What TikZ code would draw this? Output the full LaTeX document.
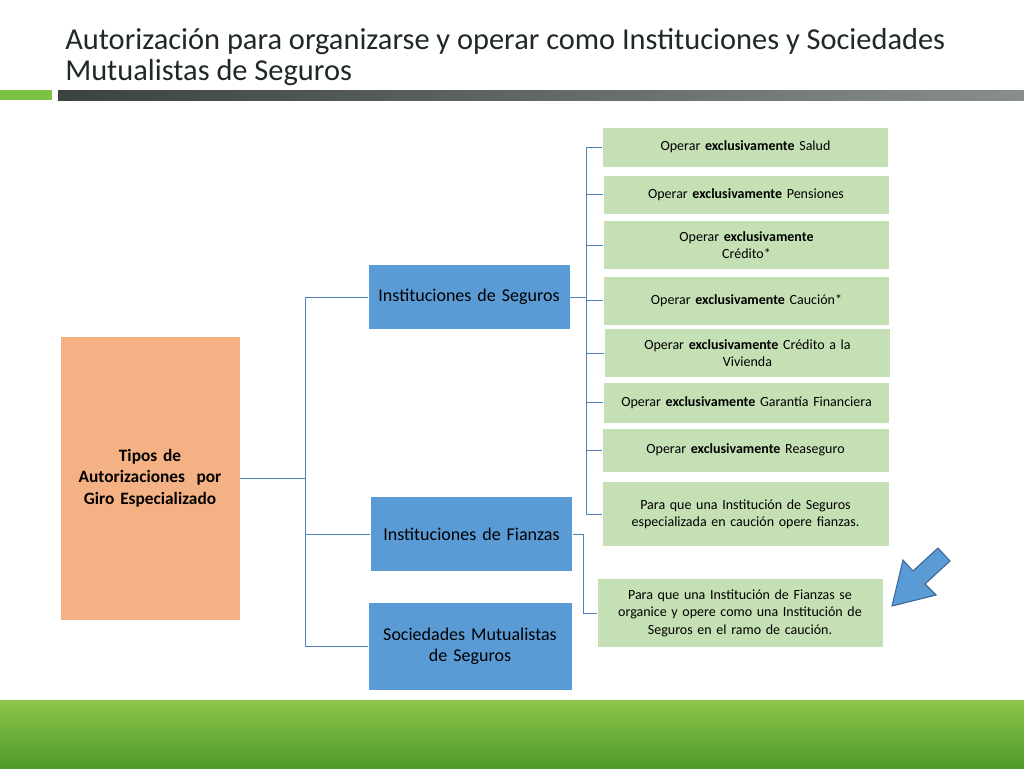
\documentclass[tikz,border=0pt]{standalone}
\usepackage{fontspec}
\setmainfont{Carlito}
\usetikzlibrary{positioning}
\hyphenpenalty=10000
\definecolor{titlegray}{HTML}{1F2A22}
\definecolor{barg}{HTML}{7CC243}
\definecolor{bardark}{HTML}{3A4340}
\definecolor{peach}{HTML}{F4B183}
\definecolor{bluebox}{HTML}{5B9BD5}
\definecolor{greenbox}{HTML}{C5E0B4}
\definecolor{linkblue}{HTML}{4F81BD}
\definecolor{grassA}{HTML}{4E9A2A}
\definecolor{grassB}{HTML}{8CC64A}
\tikzset{
  giro/.style={fill=peach, draw=white, align=center, font=\bfseries\fontsize{13}{16}\selectfont, text width=125pt},
  inst/.style={fill=bluebox, draw=white, align=center, font=\fontsize{13.5}{16}\selectfont, text width=145pt},
  opc/.style={fill=greenbox, draw=white, align=center, font=\fontsize{10.5}{13}\selectfont, text width=208pt},
  link/.style={draw=linkblue, line width=0.6pt}
}
\begin{document}
\begin{tikzpicture}[x=0.75pt,y=-0.75pt]
\useasboundingbox (0,0) rectangle (1024,768);
\fill[white] (0,0) rectangle (1024,768);

% title and bar
\node[anchor=north west, text=titlegray, align=left, inner sep=0pt,
  font=\fontsize{22.8}{23}\selectfont] (titulo) at (65,28)
  {Autorización para organizarse y operar como Instituciones y Sociedades\\Mutualistas de Seguros};
\fill[barg] (0,90) rectangle (52,100);
\shade[left color=bardark, right color=bardark!60] (58,90) rectangle (1024,100);

% grass
\shade[top color=grassB, bottom color=grassA] (0,700) rectangle (1024,768);

% boxes
\node[giro, minimum width=135pt, minimum height=213pt] (tipos) at (150,478)
  {Tipos de\\Autorizaciones~ por\\Giro Especializado};
\node[inst, minimum width=151pt, minimum height=49pt] (seguros) at (469,297) {Instituciones de Seguros};
\node[inst, minimum width=148pt, minimum height=56pt] (fianzas) at (471.5,534) {Instituciones de Fianzas};
\node[inst, minimum width=153pt, minimum height=66pt] (mutual) at (470,646) {Sociedades Mutualistas\\de Seguros};

\node[opc, minimum width=212pt, minimum height=30pt] (salud) at (745.5,147) {Operar \textbf{exclusivamente} Salud};
\node[opc, minimum width=213pt, minimum height=29pt] (pension) at (746,194.5) {Operar \textbf{exclusivamente} Pensiones};
\node[opc, minimum width=211pt, minimum height=37pt] (credito) at (746.5,245) {Operar \textbf{exclusivamente}\\Crédito*};
\node[opc, minimum width=211pt, minimum height=37pt] (caucion) at (746.5,300.5) {Operar \textbf{exclusivamente} Caución*};
\node[opc, minimum width=209pt, minimum height=37pt] (vivienda) at (747.5,353) {Operar \textbf{exclusivamente} Crédito a la\\Vivienda};
\node[opc, minimum width=211pt, minimum height=31pt] (garantia) at (746.5,402.5) {Operar \textbf{exclusivamente} Garantía Financiera};
\node[opc, minimum width=215pt, minimum height=33pt] (reaseguro) at (745.5,450) {Operar \textbf{exclusivamente} Reaseguro};
\node[opc, minimum width=215pt, minimum height=49pt] (fianzasop) at (745.5,514) {Para que una Institución de Seguros\\especializada en caución opere fianzas.};
\node[opc, minimum width=211pt, minimum height=52pt] (organice) at (740,613) {Para que una Institución de Fianzas se\\organice y opere como una Institución de\\Seguros en el ramo de caución.};

% connectors
\coordinate (t0) at (305,478);
\draw[link] (tipos.east) -- (t0);
\foreach \b in {seguros,fianzas,mutual}
  \draw[link] (t0) |- (\b.west);
\coordinate (s0) at (586,297);
\draw[link] (seguros.east) -- (s0);
\foreach \b in {salud,pension,credito,caucion,vivienda,garantia,reaseguro,fianzasop}
  \draw[link] (s0) |- (\b.west);
\coordinate (f0) at (583,534);
\draw[link] (fianzas.east) -- (f0) |- (organice.west);

% arrow
\draw[fill=bluebox, draw=linkblue!80!black, line width=0.8pt]
  (892,606) -- (903,560) -- (913,571) -- (938,548) -- (950,561) -- (925,584) -- (936,595) -- cycle;
\end{tikzpicture}
\end{document}
